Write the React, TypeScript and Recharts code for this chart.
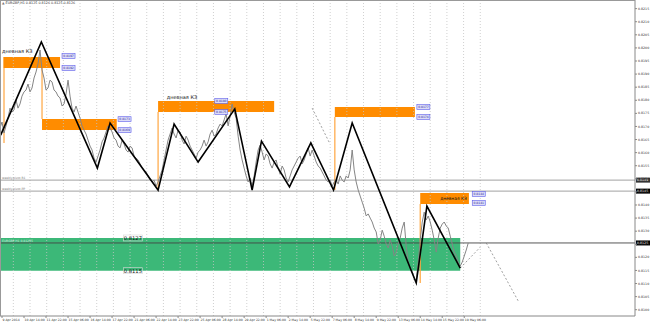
import React from 'react';
import {
  ComposedChart,
  Line,
  XAxis,
  YAxis,
  ReferenceLine,
  ReferenceArea,
  ReferenceDot,
} from 'recharts';

// EURGBP H1, closes sampled every 3 bars
const title = 'EURGBP,H1  0.8125 0.8126 0.8125 0.8126';
const BAR_STEP = 3;
const closes = [
  0.81694, 0.81717, 0.81675, 0.81702, 0.81732, 0.8177, 0.81755, 0.81763, 0.81801, 0.8177,
  0.81786, 0.81816, 0.81832, 0.81839, 0.81862, 0.81832, 0.81847, 0.81885, 0.81908, 0.81939,
  0.81992, 0.81916, 0.81885, 0.81839, 0.81847, 0.81877, 0.8187, 0.81839, 0.81832, 0.81816,
  0.81809, 0.81778, 0.81786, 0.81824, 0.81877, 0.81816, 0.8177, 0.81755, 0.81778, 0.81755,
  0.81732, 0.81702, 0.81686, 0.81671, 0.81648, 0.81625, 0.8161, 0.81579, 0.81564, 0.81587,
  0.8161, 0.81641, 0.81656, 0.81679, 0.81702, 0.81694, 0.81679, 0.81656, 0.81648, 0.81625,
  0.81618, 0.81648, 0.81633, 0.8161, 0.81602, 0.81625, 0.81618, 0.81587, 0.81579, 0.81572,
  0.81557, 0.81541, 0.81534, 0.81526, 0.81511, 0.81495, 0.81488, 0.81495, 0.81472, 0.81488,
  0.81511, 0.81534, 0.81572, 0.8161, 0.81648, 0.81671, 0.81694, 0.81671, 0.81656, 0.81686,
  0.81679, 0.81648, 0.81633, 0.81663, 0.81648, 0.81625, 0.8161, 0.81595, 0.81579, 0.81602,
  0.8161, 0.81625, 0.81648, 0.81625, 0.81641, 0.81671, 0.81686, 0.81663, 0.81671, 0.81694,
  0.81709, 0.81702, 0.81725, 0.81748, 0.81702, 0.8174, 0.81786, 0.81755, 0.81732, 0.81663,
  0.8161, 0.81572, 0.81541, 0.81511, 0.81488, 0.81503, 0.81472, 0.81511, 0.81564, 0.8161,
  0.81629, 0.81602, 0.81572, 0.81595, 0.81587, 0.81557, 0.81541, 0.81564, 0.81572, 0.81541,
  0.81518, 0.81549, 0.81534, 0.81503, 0.81488, 0.81511, 0.81534, 0.81549, 0.81564, 0.81579,
  0.81587, 0.81557, 0.81572, 0.81595, 0.81618, 0.81587, 0.8161, 0.81587, 0.81564, 0.81549,
  0.81541, 0.81526, 0.81511, 0.81495, 0.81488, 0.81495, 0.81472, 0.81488, 0.81495, 0.8148,
  0.81511, 0.81495, 0.81488, 0.81511, 0.81503, 0.81534, 0.8161, 0.81534, 0.81488, 0.81457,
  0.81434, 0.81411, 0.81388, 0.81358, 0.81366, 0.8135, 0.81335, 0.81312, 0.81297, 0.81251,
  0.81266, 0.81304, 0.81281, 0.81251, 0.81236, 0.81266, 0.81243, 0.81205, 0.8122, 0.81251,
  0.81274, 0.81312, 0.81335, 0.81243, 0.81182, 0.81159, 0.81144, 0.81121, 0.81113, 0.81182,
  0.81266, 0.81335, 0.81373, 0.81343, 0.81358, 0.81335, 0.81304, 0.81266, 0.8122, 0.81274,
  0.81312, 0.81327, 0.81335, 0.8132, 0.81312, 0.81281, 0.81251, 0.8122, 0.81205, 0.81182,
  0.81167, 0.81182, 0.81205, 0.81228, 0.81255,
];

const zigzagBars = [1, 62, 146, 165, 237, 261, 297, 352, 378, 392, 434, 466, 500, 528, 624, 640, 690];
const zigzagPrices = [
  0.81667, 0.82023, 0.81541, 0.81713, 0.81457, 0.81709, 0.81564, 0.81767, 0.81457, 0.81644,
  0.81469, 0.81637, 0.81457, 0.81713, 0.81102, 0.81396, 0.81159,
];

const priceTicks = [
  0.81, 0.8105, 0.811, 0.8115, 0.812, 0.8125, 0.813, 0.8135, 0.814, 0.8145, 0.815, 0.8155,
  0.816, 0.8165, 0.817, 0.8175, 0.818, 0.8185, 0.819, 0.8195, 0.82, 0.8205, 0.821, 0.8215,
];
const timeLabels = [
  '9 Apr 2014', '10 Apr 14:00', '11 Apr 22:00', '15 Apr 06:00', '16 Apr 14:00', '17 Apr 22:00',
  '21 Apr 06:00', '22 Apr 14:00', '23 Apr 22:00', '25 Apr 06:00', '28 Apr 14:00', '29 Apr 22:00',
  '1 May 06:00', '2 May 14:00', '5 May 22:00', '7 May 06:00', '8 May 14:00', '9 May 22:00',
  '13 May 06:00', '14 May 14:00', '15 May 22:00', '19 May 06:00',
];
const timeLabelBars = [3, 36, 69, 102, 135, 168, 201, 234, 267, 300, 333, 366, 399, 432, 465, 498, 531, 564, 597, 630, 663, 696];
const gridBars = [20, 45, 70, 95, 120, 145, 170, 195, 220, 245, 270, 295, 320, 345, 370, 395, 420, 445, 470, 495, 520, 545, 570, 595, 620, 645, 670, 695, 720];

// daily supply zones
const zoneStart = [5, 63, 237, 502, 630];
const zoneEnd = [90, 175, 411, 622, 703];
const zoneTop = [0.81965, 0.81728, 0.81797, 0.81774, 0.81446];
const zoneBottom = [0.81923, 0.81686, 0.81755, 0.81736, 0.81404];
const zoneName = 'дневная КЗ';
const zoneNameBars = [3, 250, 700];
const zoneNamePrices = [0.81988, 0.81812, 0.81423];

// orange source lines
const sourceBars = [6, 63, 237, 502, 630];
const sourceFrom = [0.81923, 0.81923, 0.81755, 0.81736, 0.81404];
const sourceTo = [0.81637, 0.81728, 0.81457, 0.81457, 0.81102];

// small price tags at zone edges
const tagBars = [93, 93, 177, 177, 322, 322, 625, 625, 708, 708];
const tagPrices = [0.81969, 0.81923, 0.81728, 0.81686, 0.81797, 0.81755, 0.81774, 0.81736, 0.81442, 0.81408];

// demand zone
const demandStart = 0;
const demandEnd = 690;
const demandTop = 0.81274;
const demandBottom = 0.81149;

const levelPrices = [0.81495, 0.81453];
const levelNames = ['weekly.pivot.R1', 'weekly.pivot.PP'];
const lastPrice = 0.81255;

// dashed projections
const dashFromBars = [468, 690, 729];
const dashFromPrices = [0.8177, 0.81159, 0.81255];
const dashToBars = [494, 720, 777];
const dashToPrices = [0.81637, 0.81239, 0.81033];

const closeData = closes.map((p, i) => ({ t: i * BAR_STEP, p }));
const zigzagData = zigzagBars.map((t, i) => ({ t, p: zigzagPrices[i] }));

const FONT = 'DejaVu Sans';

function PriceTick(props: any) {
  const { x, y, payload } = props;
  return (
    <text x={x} y={y + 1.1} fontSize={3.2} fill="#333" fontFamily={FONT} textAnchor="start">
      {Number(payload.value).toFixed(4)}
    </text>
  );
}

function TimeTick(props: any) {
  const { x, y, payload } = props;
  const i = timeLabelBars.indexOf(payload.value);
  return (
    <text x={x + 0.5} y={y + 2.6} fontSize={3.1} fill="#333" fontFamily={FONT} textAnchor="start">
      {timeLabels[i]}
    </text>
  );
}

function priceTag(text: string) {
  return (p: any) => (
    <g>
      <rect x={p.cx} y={p.cy - 2.4} width={13} height={4.8} fill="#dcdcf8" stroke="#5b5bea" strokeWidth={0.6} />
      <text x={p.cx + 6.5} y={p.cy + 1.1} fontSize={3} fill="#2a2a9a" fontFamily={FONT} textAnchor="middle">
        {text}
      </text>
    </g>
  );
}

function greenTag(text: string) {
  return (p: any) => (
    <g>
      <rect x={p.cx} y={p.cy - 3} width={19} height={6} fill="none" stroke="#d8d8d8" strokeWidth={0.6} />
      <text x={p.cx + 9.5} y={p.cy + 1.8} fontSize={5.2} fill="#111" fontFamily={FONT} textAnchor="middle">
        {text}
      </text>
    </g>
  );
}

function zoneLabel(anchor: 'start' | 'end', size: number) {
  return (p: any) => (
    <text x={p.cx} y={p.cy + 1.5} fontSize={size} fill="#111" fontFamily={FONT} textAnchor={anchor}>
      {zoneName}
    </text>
  );
}

function axisBox(text: string, bg: string) {
  return (props: any) => {
    const vb = props.viewBox;
    return (
      <g>
        <rect x={vb.x + vb.width + 1} y={vb.y - 2.5} width={14} height={5} fill={bg} />
        <text x={vb.x + vb.width + 2} y={vb.y + 1.1} fontSize={3.2} fill="#fff" fontFamily={FONT}>
          {text}
        </text>
      </g>
    );
  };
}

function levelLabel(text: string, color: string) {
  return (props: any) => {
    const vb = props.viewBox;
    return (
      <text x={vb.x + 2} y={vb.y - 1} fontSize={3} fill={color} fontFamily={FONT}>
        {text}
      </text>
    );
  };
}

export default function App() {
  return (
    <div style={{ position: 'fixed', left: 0, top: 0, width: 650, height: 323, background: '#fff' }}>
      <ComposedChart width={650} height={323} data={closeData} margin={{ top: 0, right: 0, bottom: 0, left: 0 }}>
        <XAxis
          dataKey="t"
          type="number"
          domain={[0, 952]}
          ticks={timeLabelBars}
          interval={0}
          tick={TimeTick}
          tickSize={2}
          tickMargin={0}
          height={7}
          stroke="#888"
          allowDataOverflow
        />
        <YAxis
          orientation="right"
          type="number"
          domain={[0.80976, 0.82183]}
          ticks={priceTicks}
          interval={0}
          tick={PriceTick}
          tickSize={2}
          tickMargin={1}
          width={15}
          stroke="#888"
          allowDataOverflow
        />
        {gridBars.map((b) => (
          <ReferenceLine key={'g' + b} x={b} stroke="#c4c4c4" strokeWidth={0.8} strokeDasharray="1 2" />
        ))}
        <ReferenceArea
          x1={demandStart}
          x2={demandEnd}
          y1={demandBottom}
          y2={demandTop}
          fill="#3cb878"
          fillOpacity={1}
          stroke="none"
        />
        {zoneStart.map((s, i) => (
          <ReferenceArea
            key={'z' + i}
            x1={s}
            x2={zoneEnd[i]}
            y1={zoneBottom[i]}
            y2={zoneTop[i]}
            fill="#ff8c00"
            fillOpacity={1}
            stroke="none"
          />
        ))}
        {sourceBars.map((b, i) => (
          <ReferenceLine
            key={'s' + i}
            segment={[{ x: b, y: sourceFrom[i] }, { x: b, y: sourceTo[i] }]}
            stroke="#ffa640"
            strokeWidth={1.2}
          />
        ))}
        {levelPrices.map((p, i) => (
          <ReferenceLine key={'l' + i} y={p} stroke="#8a8a8a" strokeWidth={0.8} label={levelLabel(levelNames[i], '#777')} />
        ))}
        <ReferenceLine y={levelPrices[0]} stroke="none" label={axisBox(levelPrices[0].toFixed(4), '#333')} />
        <ReferenceLine y={levelPrices[1]} stroke="none" label={axisBox(levelPrices[1].toFixed(4), '#000')} />
        <ReferenceLine y={lastPrice} stroke="#444" strokeWidth={0.9} label={levelLabel('EURGBP,H1 ' + lastPrice.toFixed(5), '#d8f0e0')} />
        <ReferenceLine y={lastPrice} stroke="none" label={axisBox(lastPrice.toFixed(4), '#000')} />
        {dashFromBars.map((b, i) => (
          <ReferenceLine
            key={'d' + i}
            segment={[{ x: b, y: dashFromPrices[i] }, { x: dashToBars[i], y: dashToPrices[i] }]}
            stroke="#777"
            strokeWidth={0.7}
            strokeDasharray="2 2"
            ifOverflow="visible"
          />
        ))}
        <Line
          data={closeData}
          dataKey="p"
          type="linear"
          stroke="#858585"
          strokeWidth={1}
          dot={false}
          activeDot={false}
          isAnimationActive={false}
        />
        <Line
          data={zigzagData}
          dataKey="p"
          type="linear"
          stroke="#000"
          strokeWidth={1.6}
          dot={false}
          activeDot={false}
          isAnimationActive={false}
        />
        {zoneNameBars.map((b, i) => (
          <ReferenceDot
            key={'n' + i}
            x={b}
            y={zoneNamePrices[i]}
            r={1}
            shape={zoneLabel(i === 2 ? 'end' : 'start', i === 2 ? 4.4 : 5)}
          />
        ))}
        {tagBars.map((b, i) => (
          <ReferenceDot key={'t' + i} x={b} y={tagPrices[i]} r={1} shape={priceTag(tagPrices[i].toFixed(4))} />
        ))}
        <ReferenceDot x={185} y={demandTop} r={1} shape={greenTag(demandTop.toFixed(4))} />
        <ReferenceDot x={185} y={demandBottom} r={1} shape={greenTag(demandBottom.toFixed(4))} />
      </ComposedChart>
      <div
        style={{
          position: 'absolute',
          left: 0,
          top: 0,
          width: 635,
          height: 316,
          borderTop: '1px solid #999',
          borderLeft: '1px solid #999',
          boxSizing: 'border-box',
          pointerEvents: 'none',
        }}
      />
      <div
        style={{
          position: 'absolute',
          left: 2,
          top: 1,
          fontSize: 3.3,
          fontFamily: FONT,
          color: '#333',
          whiteSpace: 'nowrap',
        }}
      >
        <span style={{ color: '#777' }}>▲ </span>
        {title}
      </div>
    </div>
  );
}
